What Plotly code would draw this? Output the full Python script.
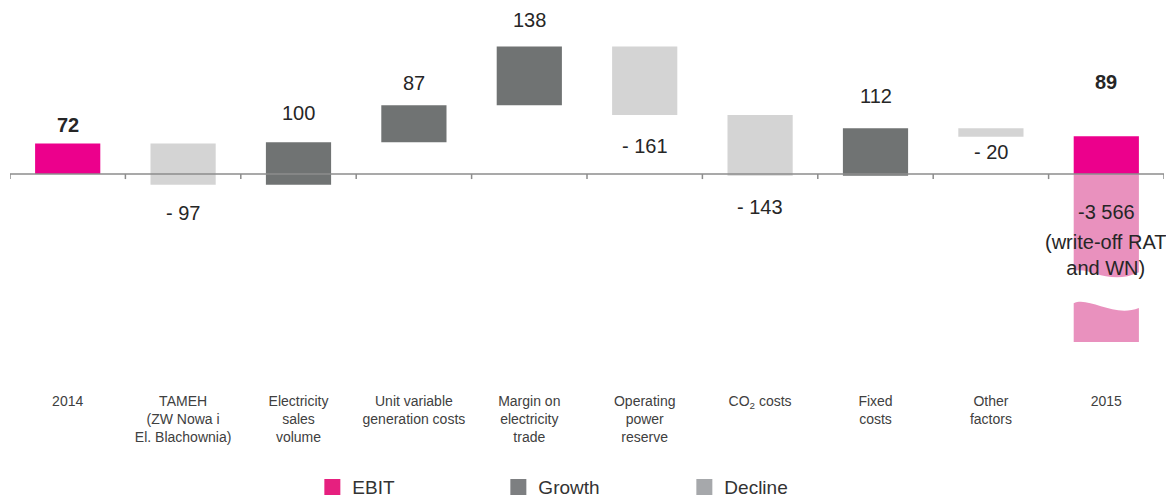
import plotly.graph_objects as go

# EBIT bridge 2014 -> 2015 (PLN m)
categories = [
    "2014",
    "TAMEH<br>(ZW Nowa i<br>El. Blachownia)",
    "Electricity<br>sales<br>volume",
    "Unit variable<br>generation costs",
    "Margin on<br>electricity<br>trade",
    "Operating<br>power<br>reserve",
    "CO<sub>2</sub> costs",
    "Fixed<br>costs",
    "Other<br>factors",
    "2015",
]
values = [72, -97, 100, 87, 138, -161, -143, 112, -20, 89]
kinds = ["total", "delta", "delta", "delta", "delta", "delta", "delta", "delta", "delta", "total"]
writeoff_value = -3566
writeoff_note = "(write-off RAT<br>and WN)"
legend_names = ["EBIT", "Growth", "Decline"]

# styling
FONT = "Liberation Sans, Arial, sans-serif"
C_EBIT = "#EC008C"
C_UP = "#707373"
C_DOWN = "#D4D4D4"
C_WRITEOFF = "#E991BE"
LEGEND_COLORS = ["#E6207F", "#7D7F81", "#A6A8AB"]
BAR_W = 0.565
# vertical offset (px) of each value label from the end of its bar
LABEL_SHIFT = [18, -28, 29, 22, 27, -31, -31, 32, -15, 54]

# running totals -> bar bases
bases, ends, colors = [], [], []
running = 0
for v, k in zip(values, kinds):
    if k == "total":
        bases.append(0)
        running = v
        colors.append(C_EBIT)
    else:
        bases.append(running)
        running += v
        colors.append(C_UP if v > 0 else C_DOWN)
    ends.append(running)

x = list(range(len(categories)))

fig = go.Figure()
fig.add_trace(go.Bar(
    x=x, y=values, base=bases, width=BAR_W,
    marker=dict(color=colors, line=dict(width=0)),
    showlegend=False, hoverinfo="skip",
))

# legend entries
for name, col in zip(legend_names, LEGEND_COLORS):
    fig.add_trace(go.Scatter(
        x=[None], y=[None], mode="markers", name=name,
        marker=dict(symbol="square", size=16, color=col),
    ))

def fmt(v, k):
    if k == "total" or v > 0:
        return f"{v}"
    return f"- {abs(v)}"

annotations = []
for i, (v, k, e) in enumerate(zip(values, kinds, ends)):
    txt = fmt(v, k)
    if k == "total":
        txt = f"<b>{txt}</b>"
    annotations.append(dict(
        x=i, y=e, xref="x", yref="y", text=txt, showarrow=False,
        yanchor="middle", yshift=LABEL_SHIFT[i],
        font=dict(size=20, color="#262626", family=FONT),
    ))

# write-off note under the 2015 bar
wo_text = f"{writeoff_value:,}".replace(",", " ")
annotations.append(dict(
    x=9, y=0, xref="x", yref="y", text=wo_text, showarrow=False,
    yanchor="middle", yshift=-38,
    font=dict(size=20, color="#262626", family=FONT),
))
annotations.append(dict(
    x=9, y=0, xref="x", yref="y", text=writeoff_note, showarrow=False,
    yanchor="middle", yshift=-81,
    font=dict(size=20, color="#262626", family=FONT),
))

shapes = []
# broken (not-to-scale) write-off bar below the 2015 EBIT bar
xl, xr = 9 - BAR_W / 2, 9 + BAR_W / 2
def xf(f):
    return xl + f * (xr - xl)
upper = (f"M {xl},0 L {xr},0 L {xr},-231 "
         f"C {xf(0.54)},-264 {xf(0.23)},-216 {xl},-228 Z")
lower = (f"M {xl},-304 C {xf(0.23)},-287 {xf(0.615)},-339 {xr},-315 "
         f"L {xr},-395 L {xl},-395 Z")
for p in (upper, lower):
    shapes.append(dict(type="path", path=p, xref="x", yref="y",
                       fillcolor=C_WRITEOFF, line=dict(width=0), layer="below"))

# category axis drawn at zero with short ticks between categories
AX_COL = "#8C8C8C"
shapes.append(dict(type="line", xref="x", yref="y", x0=-0.5, x1=len(x) - 0.5,
                   y0=0, y1=0, line=dict(color=AX_COL, width=1.5), layer="above"))
for b in range(len(x) + 1):
    shapes.append(dict(type="line", xref="x", yref="y", x0=b - 0.5, x1=b - 0.5,
                       ysizemode="pixel", yanchor=0, y0=0, y1=-5,
                       line=dict(color=AX_COL, width=1.5), layer="above"))

fig.update_layout(
    width=1166, height=497,
    margin=dict(l=10, r=2, t=10, b=107, autoexpand=False),
    paper_bgcolor="white", plot_bgcolor="white",
    font=dict(family=FONT, color="#404040"),
    barmode="overlay",
    xaxis=dict(
        tickmode="array", tickvals=x, ticktext=categories,
        range=[-0.5, len(x) - 0.5], showgrid=False, zeroline=False,
        showline=False, ticks="", ticklabelstandoff=1, automargin=False,
        tickfont=dict(size=14, color="#404040", family=FONT),
        fixedrange=True,
    ),
    yaxis=dict(visible=False, range=[-508, 386], fixedrange=True, automargin=False),
    legend=dict(
        orientation="h", yref="container", y=0.02, yanchor="middle",
        x=0.262, xanchor="left",
        entrywidth=141, entrywidthmode="pixels",
        font=dict(size=19, color="#333333", family=FONT),
        bgcolor="rgba(0,0,0,0)",
    ),
    annotations=annotations,
    shapes=shapes,
)

fig.write_html("out.html")
